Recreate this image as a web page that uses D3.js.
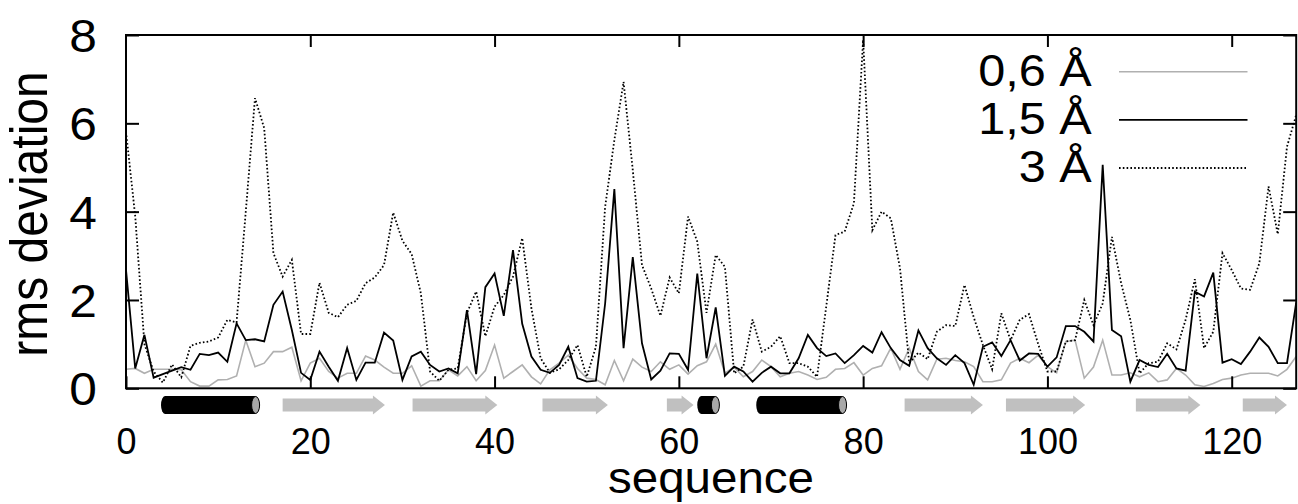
<!DOCTYPE html>
<html>
<head>
<meta charset="utf-8">
<script src="https://cdn.jsdelivr.net/npm/d3@7"></script>
<style>
  body { margin: 0; background: #fff; }
  text { font-family: "Liberation Sans", Arial, Helvetica, sans-serif; fill: #000; }
</style>
</head>
<body>
<svg id="chart" width="1298" height="504"></svg>
<script>
// residue numbers on the x axis
let residues = d3.range(0, 128)

// rms deviation per residue, one array per resolution
let rms06 = [0.43, 0.45, 0.34, 0.43, 0.43, 0.43, 0.42, 0.15, 0.05, 0.05,
    0.19, 0.20, 0.28, 1.09, 0.49, 0.57, 0.83, 0.83, 0.93, 0.17,
    0.57, 0.68, 0.38, 0.23, 0.34, 0.34, 0.73, 0.64, 0.48, 0.34,
    0.34, 0.51, 0.05, 0.17, 0.17, 0.42, 0.28, 0.49, 0.17, 0.40,
    0.98, 0.23, 0.38, 0.53, 0.26, 0.10, 0.42, 0.57, 0.75, 0.45,
    0.23, 0.20, 0.08, 0.63, 0.17, 0.66, 0.48, 0.38, 0.60, 0.43,
    0.53, 0.32, 0.51, 0.60, 1.00, 0.34, 0.48, 0.26, 0.38, 0.64,
    0.49, 0.26, 0.34, 0.38, 0.30, 0.20, 0.25, 0.43, 0.45, 0.58,
    0.30, 0.45, 0.51, 0.91, 0.43, 0.91, 0.38, 0.19, 0.66, 0.68,
    0.63, 0.60, 0.49, 0.15, 0.15, 0.19, 0.57, 0.68, 0.58, 0.75,
    0.49, 0.35, 1.06, 1.09, 0.23, 0.48, 1.09, 0.30, 0.30, 0.35,
    0.26, 0.35, 0.15, 0.19, 0.45, 0.30, 0.08, 0.04, 0.11, 0.20,
    0.23, 0.30, 0.34, 0.34, 0.34, 0.28, 0.43, 0.72]

let rms15 = [2.68, 0.45, 1.21, 0.24, 0.32, 0.40, 0.48, 0.42, 0.78, 0.75,
    0.81, 0.60, 1.47, 1.09, 1.11, 1.06, 1.89, 2.19, 1.32, 0.35,
    0.19, 0.83, 0.49, 0.17, 0.91, 0.19, 0.58, 0.58, 1.26, 1.08,
    0.19, 0.72, 0.83, 0.53, 0.38, 0.45, 0.34, 1.77, 0.32, 2.29,
    2.60, 1.64, 3.13, 1.46, 0.72, 0.42, 0.35, 0.53, 0.94, 0.23,
    0.15, 0.17, 1.92, 4.51, 0.91, 2.97, 1.02, 0.20, 0.40, 0.79,
    0.78, 0.42, 2.60, 0.68, 1.83, 0.28, 0.49, 0.38, 0.15, 0.35,
    0.49, 0.34, 0.34, 0.68, 1.21, 0.91, 0.73, 0.79, 0.57, 0.75,
    0.96, 0.81, 1.27, 0.91, 0.64, 0.51, 1.31, 0.91, 0.68, 0.53,
    0.75, 0.57, 0.08, 0.94, 1.04, 0.73, 1.09, 0.63, 0.79, 0.78,
    0.49, 0.70, 1.41, 1.41, 1.28, 1.06, 5.06, 1.32, 1.18, 0.15,
    0.64, 0.53, 0.48, 0.78, 0.45, 0.40, 2.19, 2.08, 2.62, 0.58,
    0.66, 0.55, 0.83, 1.15, 0.94, 0.57, 0.57, 1.94]

let rms30 = [5.81, 3.90, 1.00, 0.38, 0.13, 0.54, 0.25, 0.96, 1.03, 1.06,
    1.15, 1.55, 1.49, 4.00, 6.57, 5.89, 3.06, 2.53, 2.91, 1.23,
    1.23, 2.39, 1.71, 1.61, 1.89, 1.98, 2.38, 2.51, 2.79, 3.98,
    3.34, 3.04, 2.15, 0.38, 0.17, 0.42, 0.45, 1.70, 2.19, 1.18,
    1.85, 2.11, 2.53, 3.40, 1.81, 0.68, 0.35, 0.43, 0.64, 0.98,
    0.26, 0.94, 4.11, 5.62, 6.94, 4.94, 2.79, 2.26, 1.64, 2.51,
    2.15, 3.89, 3.32, 1.71, 3.02, 2.75, 0.34, 0.49, 1.56, 0.83,
    0.94, 1.18, 0.57, 0.57, 0.49, 0.26, 1.86, 3.47, 3.55, 4.19,
    7.89, 3.58, 4.00, 3.85, 2.72, 0.57, 0.81, 0.66, 1.28, 1.43,
    1.41, 2.34, 1.61, 0.98, 0.43, 1.70, 1.09, 1.55, 1.68, 1.00,
    0.38, 0.38, 1.06, 1.09, 2.00, 1.43, 1.92, 3.43, 2.38, 1.55,
    0.34, 0.57, 0.60, 1.02, 0.88, 1.55, 2.47, 0.91, 1.28, 3.06,
    2.68, 2.26, 2.23, 2.83, 4.57, 3.49, 5.47, 6.19]

let legendLabels = ['0,6 Å', '1,5 Å', '3 Å']
let xTicks = [0, 20, 40, 60, 80, 100, 120]
let yTicks = [0, 2, 4, 6, 8]

// secondary structure: helices (cylinders) and strands (arrows), start/end residue
let helices = [[3.8, 14.5], [62.0, 64.4], [68.4, 78.2]]
let strands = [[17.0, 28.1], [31.1, 40.3], [45.2, 52.3], [58.7, 61.6],
    [84.5, 93.0], [95.5, 104.1], [109.6, 116.6], [121.2, 126.0]]

window.addEventListener('load', () => {
    let svg = d3.select('svg#chart')
    let left = 126, right = 1296.2, top = 35, bottom = 388.3
    let sx = 1.08  // the original text is a bit wider than the font

    let x = d3.scaleLinear().domain([0, 127]).range([left, right])
    let y = d3.scaleLinear().domain([0, 8]).range([bottom, top])

    // series lines
    let series = [
        {values: rms06, color: '#b0b0b0', dash: null, width: 1.6},
        {values: rms15, color: '#000', dash: null, width: 1.8},
        {values: rms30, color: '#000', dash: '1.6,2.2', width: 1.8}
    ]
    series.forEach(s => {
        let gen = d3.line()
            .x((d, i) => x(residues[i]))
            .y(d => y(d))
        svg.append('path')
            .attr('d', gen(s.values))
            .attr('fill', 'none')
            .attr('stroke', s.color)
            .attr('stroke-width', s.width)
            .attr('stroke-dasharray', s.dash)
            .attr('stroke-linejoin', 'miter')
    })

    // axes, ticks point inward
    let xAxisB = svg.append('g').attr('transform', 'translate(0,' + bottom + ')')
        .call(d3.axisBottom(x).tickValues(xTicks).tickSize(-12).tickPadding(40))
    svg.append('g').attr('transform', 'translate(0,' + top + ')')
        .call(d3.axisTop(x).tickValues(xTicks.filter(t => t > 0)).tickSize(-12).tickFormat(''))
    let yAxisL = svg.append('g').attr('transform', 'translate(' + left + ',0)')
        .call(d3.axisLeft(y).tickValues(yTicks).tickSize(-13).tickPadding(27))
    svg.append('g').attr('transform', 'translate(' + right + ',0)')
        .call(d3.axisRight(y).tickValues(yTicks).tickSize(-13).tickFormat(''))

    svg.selectAll('.domain').remove()
    svg.selectAll('.tick line').attr('stroke', '#000').attr('stroke-width', 2)

    xAxisB.selectAll('text')
        .attr('font-size', 36)
        .attr('font-family', '"Liberation Sans", Arial, sans-serif')
        .attr('fill', '#000')
    yAxisL.selectAll('text')
        .attr('font-size', 46)
        .attr('font-family', '"Liberation Sans", Arial, sans-serif')
        .attr('fill', '#000')
        .attr('dy', '0.36em')
        .attr('transform', 'scale(' + sx + ',1)')

    // plot border
    svg.append('rect')
        .attr('x', left).attr('y', top)
        .attr('width', right - left).attr('height', bottom - top)
        .attr('fill', 'none').attr('stroke', '#000').attr('stroke-width', 2)

    // secondary structure row under the plot
    let ssY = 405
    strands.forEach(s => {
        let x1 = x(s[0]), x2 = x(s[1])
        let head = 12
        svg.append('path')
            .attr('d', 'M' + x1 + ',' + (ssY - 6.5) + 'L' + (x2 - head) + ',' + (ssY - 6.5)
                + 'L' + (x2 - head) + ',' + (ssY - 9.5) + 'L' + x2 + ',' + ssY
                + 'L' + (x2 - head) + ',' + (ssY + 9.5) + 'L' + (x2 - head) + ',' + (ssY + 6.5)
                + 'L' + x1 + ',' + (ssY + 6.5) + 'Z')
            .attr('fill', '#c0c0c0')
    })
    helices.forEach(h => {
        let x1 = x(h[0]), x2 = x(h[1])
        let r = 4, hh = 9
        svg.append('ellipse')
            .attr('cx', x1 + r).attr('cy', ssY).attr('rx', r).attr('ry', hh)
            .attr('fill', '#000')
        svg.append('rect')
            .attr('x', x1 + r).attr('y', ssY - hh)
            .attr('width', x2 - x1 - 2 * r).attr('height', 2 * hh)
            .attr('fill', '#000')
        svg.append('ellipse')
            .attr('cx', x2 - r).attr('cy', ssY).attr('rx', r).attr('ry', hh - 0.5)
            .attr('fill', '#a8a8a8').attr('stroke', '#000').attr('stroke-width', 1)
    })

    // axis titles
    svg.append('text')
        .attr('transform', 'translate(711,493) scale(' + sx + ',1)')
        .attr('text-anchor', 'middle')
        .attr('font-size', 44)
        .text('sequence')
    svg.append('text')
        .attr('transform', 'translate(47,214) scale(' + sx + ',1) rotate(-90)')
        .attr('text-anchor', 'middle')
        .attr('font-size', 48)
        .text('rms deviation')

    // legend
    let legendY = [71.7, 119.8, 168]
    legendLabels.forEach((label, i) => {
        svg.append('text')
            .attr('transform', 'translate(1091.7,' + (legendY[i] + 14) + ') scale(' + sx + ',1)')
            .attr('text-anchor', 'end')
            .attr('font-size', 45)
            .text(label)
        svg.append('line')
            .attr('x1', 1119).attr('x2', 1247.5)
            .attr('y1', legendY[i]).attr('y2', legendY[i])
            .attr('stroke', series[i].color)
            .attr('stroke-width', series[i].width)
            .attr('stroke-dasharray', series[i].dash)
    })
})
</script>
</body>
</html>
